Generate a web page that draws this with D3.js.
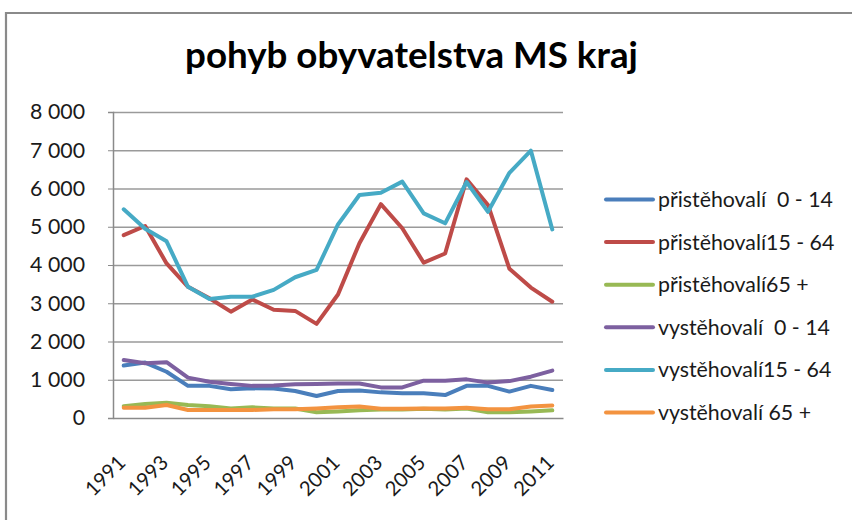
<!DOCTYPE html>
<html><head><meta charset="utf-8">
<script src="https://cdn.jsdelivr.net/npm/d3@7"></script>
<style>
html,body{margin:0;padding:0;background:#fff;}
svg text{font-family:Lato,"Noto Sans",sans-serif;white-space:pre;}
</style></head>
<body><svg id="c" width="852" height="520"></svg>
<script>
const years = d3.range(1991, 2012).map(String);
const tickYears = ["1991","1993","1995","1997","1999","2001","2003","2005","2007","2009","2011"];
const yTicks = [0,1000,2000,3000,4000,5000,6000,7000,8000];
const seriesNames = ["přistěhovalí  0 - 14","přistěhovalí15 - 64","přistěhovalí65 +","vystěhovalí  0 - 14","vystěhovalí15 - 64","vystěhovalí 65 +"];
const seriesColors = ["#4A7EBB","#BE4B48","#98B954","#7D60A0","#46AAC5","#F39340"];
const pristehovali0_14 = [1370,1450,1210,840,840,750,775,770,705,575,705,720,670,645,645,600,840,840,690,840,730];
const pristehovali15_64 = [4780,5020,4040,3430,3130,2780,3100,2830,2800,2460,3230,4570,5590,4960,4060,4300,6240,5570,3900,3410,3040];
const pristehovali65 = [310,365,400,340,310,250,280,250,250,150,170,200,220,220,240,220,250,150,150,170,200];
const vystehovali0_14 = [1516,1430,1460,1055,950,890,840,850,880,890,900,900,800,800,975,975,1010,925,965,1080,1240];
const vystehovali15_64 = [5456,4950,4620,3430,3110,3170,3170,3350,3680,3870,5060,5830,5890,6180,5350,5090,6170,5390,6410,6990,4930];
const vystehovali65 = [270,270,340,210,210,210,210,230,230,250,280,300,240,240,250,250,270,230,230,300,330];
const seriesValues = [pristehovali0_14,pristehovali15_64,pristehovali65,vystehovali0_14,vystehovali15_64,vystehovali65];

const svg = d3.select("#c");
const m = {left:113, top:112, right:563, bottom:418};

// outer frame (top & left visible)
svg.append("path").attr("d","M6,852 V13 H852").attr("fill","none").attr("stroke","#8a8a8a").attr("stroke-width",2.2);

const x = d3.scaleBand().domain(years).range([m.left, m.right]);
const y = d3.scaleLinear().domain([0,8000]).range([m.bottom, m.top]);

function measure(txt, size, weight){
  const t = svg.append("text").attr("font-size",size).attr("font-weight",weight||"normal").text(txt);
  const w = t.node().getComputedTextLength(); t.remove(); return w;
}
const baseFs = 20 * 175 / measure(seriesNames[0], 20);
const titleFs = 34 * 453 / measure("pohyb obyvatelstva MS kraj", 34, "bold");
const xFs = 20 * 47 / measure("2011", 20);

// gridlines
svg.append("g").selectAll("line").data(yTicks.filter(d=>d>0)).join("line")
  .attr("x1",m.left).attr("x2",m.right).attr("y1",d=>y(d)+0.5).attr("y2",d=>y(d)+0.5)
  .attr("stroke","#9a9a9a").attr("stroke-width",1.3);

// y axis
const fmt = d => d===0 ? "0" : d3.format(",")(d).replace(/,/g," ");
const ya = svg.append("g").attr("transform",`translate(${m.left},0)`)
  .call(d3.axisLeft(y).tickValues(yTicks).tickFormat(fmt).tickSize(5).tickPadding(23));
ya.select(".domain").attr("stroke","#8a8a8a").attr("stroke-width",1.5);
ya.selectAll(".tick line").attr("stroke","#8a8a8a");
ya.selectAll("text").attr("font-size",baseFs).attr("fill","#1a1a1a").attr("font-family","Lato");

// x axis
const xa = svg.append("g").attr("transform",`translate(0,${m.bottom})`)
  .call(d3.axisBottom(x).tickValues(tickYears).tickSize(0).tickPadding(0));
xa.select(".domain").attr("stroke","#8a8a8a").attr("stroke-width",1.5);
xa.selectAll("text").attr("font-size",xFs).attr("fill","#1a1a1a").attr("font-family","Lato")
  .attr("text-anchor","end").attr("dy",null).attr("y",0)
  .attr("transform","translate(3,46) rotate(-45)");

// lines
const line = d3.line().x((d,i)=>x(years[i])+x.bandwidth()/2).y(d=>y(d));
svg.append("g").selectAll("path").data(seriesValues).join("path")
  .attr("d",line).attr("fill","none").attr("stroke",(d,i)=>seriesColors[i])
  .attr("stroke-width",4).attr("stroke-linejoin","round").attr("stroke-linecap","round");

// legend
const lg = svg.append("g").selectAll("g").data(seriesNames).join("g")
  .attr("transform",(d,i)=>`translate(606,${199.5 + i*42.6})`);
lg.append("line").attr("x1",0).attr("x2",47).attr("stroke",(d,i)=>seriesColors[i]).attr("stroke-width",4).attr("stroke-linecap","round");
lg.append("text").attr("x",52).attr("dy","0.35em").attr("font-size",baseFs).attr("fill","#1a1a1a").text(d=>d);

// title
svg.append("text").attr("x",411.5).attr("y",67.5).attr("text-anchor","middle")
  .attr("font-size",titleFs).attr("font-weight","bold").attr("fill","#000")
  .text("pohyb obyvatelstva MS kraj");
</script></body></html>
